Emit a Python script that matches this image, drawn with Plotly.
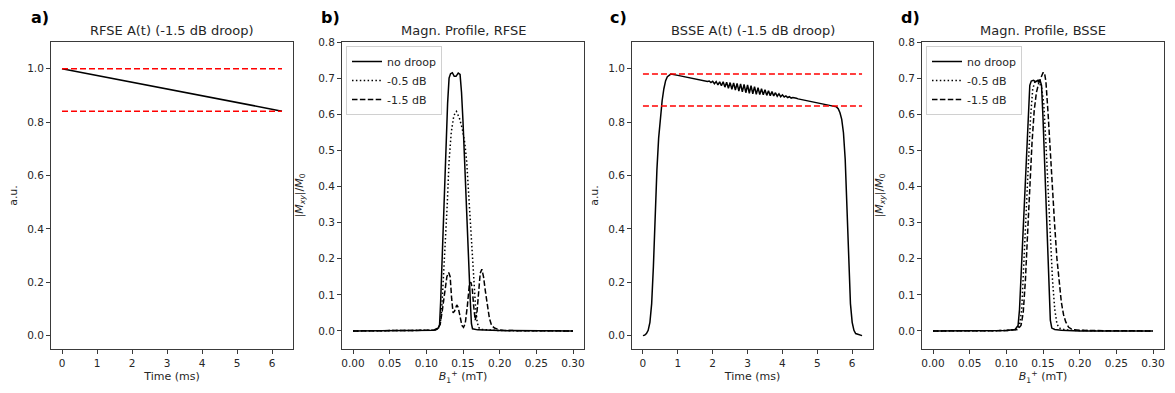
import plotly.graph_objects as go

# ---------------- data ----------------
# Panel a: RFSE amplitude with -1.5 dB droop
rfse_t = [0.0, 6.283]
rfse_amp = [1.0, 0.841]
rfse_ref_t = [0.0, 6.283]
rfse_ref_levels = [1.0, 0.841]

# Panel c: BSSE amplitude with -1.5 dB droop
bsse_t = [0.0, 0.05, 0.10, 0.15, 0.20, 0.25, 0.30, 0.35, 0.40, 0.45, 0.50, 0.55, 0.60, 0.65,
          0.70, 0.75, 0.80, 1.00, 1.20, 1.40, 1.60,
          1.80, 1.85, 1.90, 1.95, 2.00, 2.05, 2.10, 2.15, 2.20, 2.25, 2.30, 2.35, 2.40, 2.45,
          2.50, 2.55, 2.60, 2.65, 2.70, 2.75, 2.80, 2.85, 2.90, 2.95, 3.00, 3.05, 3.10, 3.15,
          3.20, 3.25, 3.30, 3.35, 3.40, 3.45, 3.50, 3.55, 3.60, 3.65, 3.70, 3.75, 3.80, 3.85,
          3.90, 3.95, 4.00, 4.05, 4.10, 4.15, 4.20, 4.25, 4.30, 4.35, 4.40, 4.45,
          4.60, 4.80, 5.00, 5.20, 5.40, 5.50, 5.55, 5.60, 5.65, 5.70, 5.75, 5.80, 5.85, 5.90,
          5.95, 6.00, 6.05, 6.10, 6.20, 6.283]
bsse_amp = [0.0, 0.002, 0.008, 0.02, 0.05, 0.12, 0.26, 0.45, 0.62, 0.74, 0.82, 0.88, 0.925, 0.955,
            0.970, 0.977, 0.980, 0.975, 0.970, 0.965, 0.960,
            0.954, 0.952, 0.954, 0.948, 0.953, 0.944, 0.952, 0.939, 0.951, 0.936, 0.951, 0.931,
            0.949, 0.927, 0.948, 0.923, 0.947, 0.920, 0.945, 0.916, 0.943, 0.913, 0.941, 0.910,
            0.939, 0.908, 0.936, 0.906, 0.933, 0.904, 0.929, 0.903, 0.925, 0.902, 0.921, 0.900,
            0.917, 0.899, 0.914, 0.898, 0.910, 0.897, 0.906, 0.895, 0.902, 0.894, 0.898, 0.892,
            0.895, 0.890, 0.892, 0.889, 0.889, 0.887,
            0.883, 0.878, 0.873, 0.868, 0.863, 0.860, 0.857, 0.850, 0.835, 0.810, 0.760, 0.660,
            0.480, 0.260, 0.120, 0.050, 0.020, 0.008, 0.002, 0.0]
bsse_ref_t = [0.0, 6.283]
bsse_ref_levels = [0.98, 0.86]

# Panel b: magnetisation profile, RFSE
rfse_nodroop_b1 = [0.0, 0.10, 0.110, 0.115, 0.118, 0.1195, 0.121, 0.1225, 0.124, 0.1255, 0.127,
                   0.129, 0.131, 0.133, 0.1355, 0.138, 0.1405, 0.1435, 0.146, 0.148, 0.150, 0.152,
                   0.154, 0.156, 0.158, 0.160, 0.1615, 0.163, 0.166, 0.170, 0.200, 0.300]
rfse_nodroop_mxy = [0.0, 0.001, 0.002, 0.005, 0.015, 0.08, 0.17, 0.26, 0.35, 0.43, 0.52,
                    0.63, 0.70, 0.712, 0.715, 0.705, 0.705, 0.714, 0.71, 0.66, 0.58, 0.49,
                    0.39, 0.29, 0.18, 0.08, 0.02, 0.006, 0.004, 0.003, 0.001, 0.0]
rfse_05db_b1 = [0.0, 0.10, 0.110, 0.116, 0.119, 0.121, 0.1235, 0.126, 0.1285, 0.131, 0.134, 0.137,
                0.139, 0.141, 0.145, 0.149, 0.1525, 0.155, 0.158, 0.161, 0.164, 0.167, 0.169,
                0.171, 0.175, 0.190, 0.200, 0.300]
rfse_05db_mxy = [0.0, 0.001, 0.002, 0.005, 0.02, 0.06, 0.15, 0.25, 0.35, 0.47, 0.55, 0.59,
                 0.603, 0.608, 0.59, 0.56, 0.52, 0.47, 0.37, 0.26, 0.15, 0.07, 0.03,
                 0.01, 0.004, 0.002, 0.001, 0.0]
rfse_15db_b1 = [0.0, 0.10, 0.110, 0.116, 0.119, 0.122, 0.125, 0.128, 0.1305, 0.1325, 0.1345,
                0.1365, 0.1385, 0.1415, 0.1435, 0.146, 0.1485, 0.1507, 0.153, 0.156, 0.1585,
                0.1607, 0.1625, 0.1645, 0.1666, 0.169, 0.1715, 0.1735, 0.1757, 0.178, 0.1805,
                0.183, 0.186, 0.189, 0.193, 0.197, 0.200, 0.210, 0.300]
rfse_15db_mxy = [0.0, 0.001, 0.002, 0.008, 0.02, 0.06, 0.11, 0.15, 0.162, 0.15, 0.09,
                 0.05, 0.055, 0.072, 0.065, 0.04, 0.015, 0.010, 0.02, 0.07, 0.125,
                 0.135, 0.12, 0.07, 0.03, 0.05, 0.12, 0.16, 0.171, 0.15, 0.11,
                 0.07, 0.035, 0.015, 0.008, 0.005, 0.003, 0.001, 0.0]

# Panel d: magnetisation profile, BSSE
bsse_nodroop_b1 = [0.0, 0.10, 0.112, 0.116, 0.118, 0.121, 0.124, 0.127, 0.130, 0.132, 0.134,
                   0.137, 0.140, 0.143, 0.146, 0.148, 0.150, 0.152, 0.154, 0.156, 0.158, 0.160,
                   0.162, 0.166, 0.175, 0.190, 0.200, 0.300]
bsse_nodroop_mxy = [0.0, 0.001, 0.004, 0.015, 0.06, 0.19, 0.33, 0.47, 0.61, 0.68, 0.692,
                    0.694, 0.690, 0.694, 0.694, 0.68, 0.59, 0.47, 0.35, 0.23, 0.11, 0.03,
                    0.008, 0.004, 0.002, 0.001, 0.0, 0.0]
bsse_05db_b1 = [0.0, 0.10, 0.113, 0.118, 0.121, 0.124, 0.127, 0.130, 0.133, 0.136, 0.139, 0.144,
                0.148, 0.151, 0.154, 0.157, 0.160, 0.163, 0.166, 0.169, 0.172, 0.180, 0.200, 0.300]
bsse_05db_mxy = [0.0, 0.001, 0.004, 0.015, 0.06, 0.18, 0.32, 0.46, 0.59, 0.67, 0.69, 0.69,
                 0.675, 0.63, 0.52, 0.39, 0.26, 0.14, 0.06, 0.02, 0.008, 0.003, 0.001, 0.0]
bsse_15db_b1 = [0.0, 0.10, 0.115, 0.120, 0.123, 0.126, 0.129, 0.132, 0.135, 0.138, 0.141, 0.144,
                0.147, 0.150, 0.152, 0.154, 0.157, 0.160, 0.163, 0.166, 0.169, 0.172, 0.175,
                0.178, 0.181, 0.185, 0.190, 0.200, 0.220, 0.300]
bsse_15db_mxy = [0.0, 0.001, 0.004, 0.015, 0.05, 0.14, 0.27, 0.40, 0.52, 0.61, 0.66, 0.685,
                 0.70, 0.715, 0.715, 0.69, 0.60, 0.49, 0.38, 0.29, 0.20, 0.13, 0.08,
                 0.045, 0.025, 0.01, 0.004, 0.002, 0.001, 0.0]

legend_names = ["no droop", "-0.5 dB", "-1.5 dB"]
panel_titles = ["RFSE A(t) (-1.5 dB droop)", "Magn. Profile, RFSE",
                "BSSE A(t) (-1.5 dB droop)", "Magn. Profile, BSSE"]
panel_letters = ["a)", "b)", "c)", "d)"]
xlabels = ["Time (ms)", "<i>B</i><sub>1</sub><sup>+</sup> (mT)",
           "Time (ms)", "<i>B</i><sub>1</sub><sup>+</sup> (mT)"]
ylabels = ["a.u.", "|<i>M</i><sub><i>xy</i></sub>|/<i>M</i><sub>0</sub>",
           "a.u.", "|<i>M</i><sub><i>xy</i></sub>|/<i>M</i><sub>0</sub>"]

time_ticks = [0, 1, 2, 3, 4, 5, 6]
amp_ticks = [0.0, 0.2, 0.4, 0.6, 0.8, 1.0]
amp_tick_labels = ["0.0", "0.2", "0.4", "0.6", "0.8", "1.0"]
b1_ticks = [0.0, 0.05, 0.10, 0.15, 0.20, 0.25, 0.30]
b1_tick_labels = ["0.00", "0.05", "0.10", "0.15", "0.20", "0.25", "0.30"]
mxy_ticks = [0.0, 0.1, 0.2, 0.3, 0.4, 0.5, 0.6, 0.7, 0.8]
mxy_tick_labels = ["0.0", "0.1", "0.2", "0.3", "0.4", "0.5", "0.6", "0.7", "0.8"]

# ---------------- layout helpers ----------------
W, H = 1175, 393
FONT = "DejaVu Sans"
TXT = "#262626"
box_left = [51, 342, 632, 922]
box_right = [293, 584, 873, 1164]
box_top, box_bottom = 42, 349


def px_x(px):
    return px / W


def px_y(py):
    return 1 - py / H


fig = go.Figure()

dash_style = {"solid": "solid", "dot": "1.5px,2.4px", "dash": "5.5px,2.4px"}
LW = 1.5

# Panel a
fig.add_trace(go.Scatter(x=rfse_t, y=rfse_amp, mode="lines", line=dict(color="black", width=LW),
                         xaxis="x", yaxis="y", showlegend=False))
for lvl in rfse_ref_levels:
    fig.add_trace(go.Scatter(x=rfse_ref_t, y=[lvl, lvl], mode="lines",
                             line=dict(color="red", width=LW, dash="6px,3px"),
                             xaxis="x", yaxis="y", showlegend=False))

# Panel b
for xs, ys, nm, ds in [(rfse_nodroop_b1, rfse_nodroop_mxy, legend_names[0], "solid"),
                       (rfse_05db_b1, rfse_05db_mxy, legend_names[1], "dot"),
                       (rfse_15db_b1, rfse_15db_mxy, legend_names[2], "dash")]:
    fig.add_trace(go.Scatter(x=xs, y=ys, mode="lines", name=nm,
                             line=dict(color="black", width=LW, dash=dash_style[ds]),
                             xaxis="x2", yaxis="y2", legend="legend"))

# Panel c
fig.add_trace(go.Scatter(x=bsse_t, y=bsse_amp, mode="lines", line=dict(color="black", width=LW),
                         xaxis="x3", yaxis="y3", showlegend=False))
for lvl in bsse_ref_levels:
    fig.add_trace(go.Scatter(x=bsse_ref_t, y=[lvl, lvl], mode="lines",
                             line=dict(color="red", width=LW, dash="6px,3px"),
                             xaxis="x3", yaxis="y3", showlegend=False))

# Panel d
for xs, ys, nm, ds in [(bsse_nodroop_b1, bsse_nodroop_mxy, legend_names[0], "solid"),
                       (bsse_05db_b1, bsse_05db_mxy, legend_names[1], "dot"),
                       (bsse_15db_b1, bsse_15db_mxy, legend_names[2], "dash")]:
    fig.add_trace(go.Scatter(x=xs, y=ys, mode="lines", name=nm,
                             line=dict(color="black", width=LW, dash=dash_style[ds]),
                             xaxis="x4", yaxis="y4", legend="legend2"))


def axis(domain, rng, tickvals, ticktext=None, anchor=None, title=None, standoff=None):
    d = dict(domain=domain, range=rng, tickvals=tickvals, showgrid=False, zeroline=False,
             showline=True, mirror=True, linecolor="#3a3a3a", linewidth=1,
             ticks="outside", ticklen=4, tickwidth=0.8, tickcolor="#3a3a3a",
             tickfont=dict(family=FONT, size=10.5, color=TXT), automargin=False,
             fixedrange=True, anchor=anchor)
    if ticktext is not None:
        d["ticktext"] = ticktext
    if title is not None:
        d["title"] = dict(text=title, font=dict(family=FONT, size=11, color=TXT),
                          standoff=standoff)
    return d


ydom = [px_y(box_bottom), px_y(box_top)]
xdoms = [[px_x(l), px_x(r)] for l, r in zip(box_left, box_right)]

layout = dict(
    width=W, height=H, margin=dict(l=0, r=0, t=0, b=0),
    paper_bgcolor="white", plot_bgcolor="white",
    font=dict(family=FONT, color=TXT),
    xaxis=axis(xdoms[0], [-0.314, 6.597], time_ticks, anchor="y", title=xlabels[0], standoff=4),
    yaxis=axis(ydom, [-0.05, 1.10], amp_ticks, amp_tick_labels, anchor="x", title=ylabels[0], standoff=7),
    xaxis2=axis(xdoms[1], [-0.015, 0.315], b1_ticks, b1_tick_labels, anchor="y2", title=xlabels[1], standoff=4),
    yaxis2=axis(ydom, [-0.05, 0.80], mxy_ticks, mxy_tick_labels, anchor="x2", title=ylabels[1], standoff=12),
    xaxis3=axis(xdoms[2], [-0.314, 6.597], time_ticks, anchor="y3", title=xlabels[2], standoff=4),
    yaxis3=axis(ydom, [-0.05, 1.10], amp_ticks, amp_tick_labels, anchor="x3", title=ylabels[2], standoff=7),
    xaxis4=axis(xdoms[3], [-0.015, 0.315], b1_ticks, b1_tick_labels, anchor="y4", title=xlabels[3], standoff=4),
    yaxis4=axis(ydom, [-0.05, 0.80], mxy_ticks, mxy_tick_labels, anchor="x4", title=ylabels[3], standoff=12),
    legend=dict(x=px_x(346), y=px_y(46), xanchor="left", yanchor="top",
                bgcolor="rgba(255,255,255,0.85)", bordercolor="#d0d0d0", borderwidth=1,
                font=dict(family=FONT, size=11, color=TXT), itemwidth=30,
                tracegroupgap=0, itemclick=False),
    legend2=dict(x=px_x(926), y=px_y(46), xanchor="left", yanchor="top",
                 bgcolor="rgba(255,255,255,0.85)", bordercolor="#d0d0d0", borderwidth=1,
                 font=dict(family=FONT, size=11, color=TXT), itemwidth=30,
                 tracegroupgap=0, itemclick=False),
    showlegend=True,
)
fig.update_layout(**layout)

annotations = []
letter_x = [29, 319, 608, 899]
for i in range(4):
    cx = (box_left[i] + box_right[i]) / 2
    annotations.append(dict(text=panel_titles[i], x=px_x(cx), y=px_y(31), xref="paper", yref="paper",
                            showarrow=False, xanchor="center", yanchor="middle",
                            font=dict(family=FONT, size=13, color=TXT)))
    annotations.append(dict(text="<b>" + panel_letters[i] + "</b>", x=px_x(letter_x[i]), y=px_y(17),
                            xref="paper", yref="paper", showarrow=False, xanchor="left",
                            yanchor="middle", font=dict(family=FONT, size=16, color="black")))
fig.update_layout(annotations=annotations)

fig.write_html("out.html")
